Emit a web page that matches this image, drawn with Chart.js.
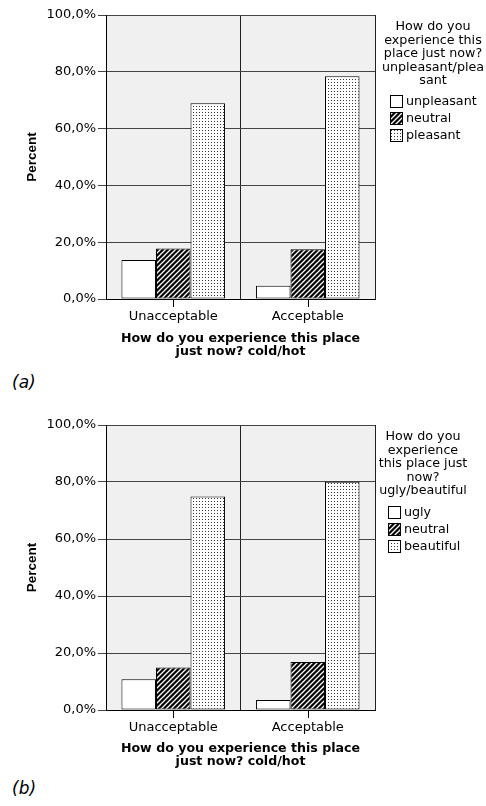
<!DOCTYPE html>
<html>
<head>
<meta charset="utf-8">
<script src="https://cdn.jsdelivr.net/npm/chart.js@4"></script>
<style>
  body { margin: 0; background: #fff; width: 486px; height: 806px; position: relative; overflow: hidden; }
  canvas { position: absolute; left: 0; }
  #chartA { top: 0; }
  #chartB { top: 410px; }
  .tag { position: absolute; left: 12px; font: italic 17px 'DejaVu Sans'; line-height: 20px; color: #000; }
</style>
</head>
<body>
<canvas id="chartA" width="486" height="365"></canvas>
<div class="tag" style="top:372px">(a)</div>
<canvas id="chartB" width="486" height="365"></canvas>
<div class="tag" style="top:778px">(b)</div>
<script>
// categories on the x axis
const categories = ['Unacceptable', 'Acceptable'];
const xTitle = ['How do you experience this place', 'just now? cold/hot'];

// (a) unpleasant / pleasant
const pleasLevels = ['unpleasant', 'neutral', 'pleasant'];
const pleasUnpleasant = [13.7, 4.7];
const pleasNeutral = [17.8, 17.5];
const pleasPleasant = [68.9, 78.4];
const pleasTitle = ['How do you', 'experience this', 'place just now?', 'unpleasant/plea', 'sant'];

// (b) ugly / beautiful
const beautyLevels = ['ugly', 'neutral', 'beautiful'];
const beautyUgly = [10.8, 3.5];
const beautyNeutral = [14.9, 16.8];
const beautyBeautiful = [74.9, 80.1];
const beautyTitle = ['How do you', 'experience', 'this place just', 'now?', 'ugly/beautiful'];

const H = 365;

function makeHatch() {
    const c = document.createElement('canvas');
    c.width = 5; c.height = 5;
    const g = c.getContext('2d');
    g.fillStyle = '#000';
    g.fillRect(0, 0, 5, 5);
    g.strokeStyle = '#fff';
    g.lineWidth = 1.3;
    g.beginPath();
    g.moveTo(0, 5); g.lineTo(5, 0);
    g.moveTo(-1, 1); g.lineTo(1, -1);
    g.moveTo(4, 6); g.lineTo(6, 4);
    g.stroke();
    return g.createPattern(c, 'repeat');
}

function makeDots() {
    const c = document.createElement('canvas');
    c.width = 3; c.height = 3;
    const g = c.getContext('2d');
    g.fillStyle = '#fff';
    g.fillRect(0, 0, 3, 3);
    g.fillStyle = '#333';
    g.fillRect(1, 1, 1, 1);
    return g.createPattern(c, 'repeat');
}

const hatch = makeHatch();
const dots = makeDots();
const fills = ['#ffffff', hatch, dots];

// plot background, category tick marks and the side legend
const framePlugin = {
    id: 'frame',
    beforeDraw(chart) {
        const { ctx, chartArea: a } = chart;
        ctx.save();
        ctx.fillStyle = '#f0f0f0';
        ctx.fillRect(a.left, a.top, a.right - a.left, a.bottom - a.top);
        ctx.restore();
    },
    afterDraw(chart, args, opts) {
        const { ctx, chartArea: a } = chart;
        const x = chart.scales.x;
        ctx.save();
        ctx.strokeStyle = '#000';
        ctx.lineWidth = 1;
        categories.forEach((c, i) => {
            const px = Math.round(x.getPixelForValue(i)) + 0.5;
            ctx.beginPath();
            ctx.moveTo(px, a.bottom);
            ctx.lineTo(px, a.bottom + 8);
            ctx.stroke();
        });

        ctx.fillStyle = '#000';
        ctx.font = '12.7px "DejaVu Sans"';
        ctx.textAlign = 'center';
        ctx.textBaseline = 'middle';
        opts.title.forEach((t, i) => ctx.fillText(t, opts.titleX, opts.titleY + i * 13.4));

        ctx.textAlign = 'left';
        chart.data.datasets.forEach((ds, i) => {
            const y = Math.round(opts.rowY + i * opts.rowGap);
            ctx.fillStyle = ds.backgroundColor;
            ctx.fillRect(opts.boxX, y - 6, 13, 13);
            ctx.strokeStyle = '#000';
            ctx.strokeRect(opts.boxX + 0.5, y - 5.5, 12, 12);
            ctx.fillStyle = '#000';
            ctx.fillText(ds.label, opts.boxX + 16, y + 1);
        });
        ctx.restore();
    }
};

function buildChart(id, levels, series, legend, plotBottom) {
    new Chart(document.getElementById(id), {
        type: 'bar',
        data: {
            labels: categories,
            datasets: levels.map((lv, i) => ({
                label: lv,
                data: series[i],
                backgroundColor: fills[i],
                borderColor: '#000',
                borderWidth: 1,
                borderSkipped: false,
                categoryPercentage: 0.77,
                barPercentage: 1
            }))
        },
        options: {
            responsive: false,
            animation: false,
            devicePixelRatio: 1,
            layout: { padding: { left: 0, right: 111, top: 15, bottom: 0 } },
            plugins: {
                legend: { display: false },
                tooltip: { enabled: false },
                frame: legend
            },
            scales: {
                x: {
                    grid: { offset: true, color: '#222', drawTicks: false },
                    border: { color: '#000' },
                    ticks: { color: '#000', font: { family: 'DejaVu Sans', size: 13 }, padding: 10 },
                    title: {
                        display: true, text: xTitle, color: '#000',
                        font: { family: 'DejaVu Sans', weight: 'bold', size: 12.6, lineHeight: 1.03 },
                        padding: { top: 0, bottom: 6.5 }
                    },
                    afterFit: s => { s.height = H - plotBottom; }
                },
                y: {
                    min: 0, max: 100,
                    ticks: {
                        stepSize: 20, color: '#000', padding: 2,
                        font: { family: 'DejaVu Sans', size: 13 },
                        callback: v => v.toFixed(1).replace('.', ',') + '%'
                    },
                    grid: { color: '#444', tickLength: 8 },
                    border: { color: '#000' },
                    title: {
                        display: true, text: 'Percent', color: '#000',
                        font: { family: 'Liberation Sans', weight: 'bold', size: 13.5 },
                        padding: { top: 24, bottom: 0 }
                    },
                    afterFit: s => { s.width = 106; }
                }
            }
        },
        plugins: [framePlugin]
    });
}

buildChart('chartA', pleasLevels, [pleasUnpleasant, pleasNeutral, pleasPleasant],
    { title: pleasTitle, titleX: 433, titleY: 27, boxX: 390, rowY: 101, rowGap: 17 }, 299);
buildChart('chartB', beautyLevels, [beautyUgly, beautyNeutral, beautyBeautiful],
    { title: beautyTitle, titleX: 423, titleY: 27, boxX: 388, rowY: 102.3, rowGap: 16.7 }, 300);
</script>
</body>
</html>
